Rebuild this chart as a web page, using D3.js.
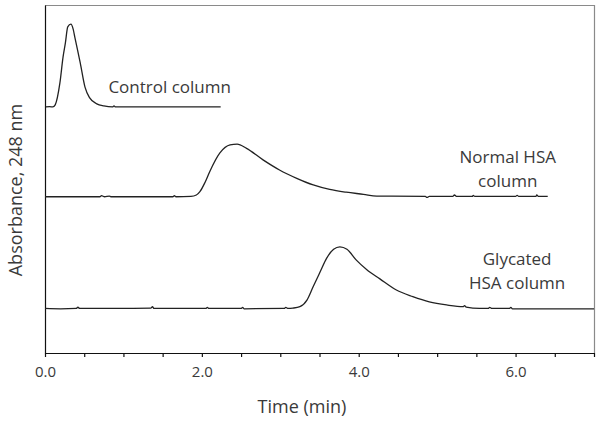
<!DOCTYPE html>
<html>
<head>
<meta charset="utf-8">
<script src="https://cdnjs.cloudflare.com/ajax/libs/d3/7.8.5/d3.min.js"></script>
<style>
  body { margin: 0; background: #fff; }
  svg text { font-family: "Open Sans", "Noto Sans", sans-serif; fill: #3a3a3a; }
</style>
</head>
<body>
<div id="chart"></div>
<script>
// Chromatogram traces: [time (min), absorbance (a.u.)]
var controlTrace = [
  [0.01, 0.707], [0.06, 0.708], [0.10, 0.707], [0.13, 0.713], [0.19, 0.776],
  [0.23, 0.850], [0.26, 0.891], [0.29, 0.937], [0.33, 0.945], [0.36, 0.930],
  [0.38, 0.908], [0.45, 0.833], [0.51, 0.764], [0.57, 0.733], [0.66, 0.716],
  [0.75, 0.710], [0.86, 0.707], [0.88, 0.710], [0.90, 0.707], [2.24, 0.707]
];
var normalTrace = [
  [0.00, 0.449], [0.70, 0.449], [0.72, 0.452], [0.76, 0.449], [0.82, 0.451],
  [0.84, 0.449], [1.63, 0.449], [1.65, 0.452], [1.67, 0.449], [1.86, 0.450],
  [1.93, 0.454], [1.975, 0.4635], [2.04, 0.490], [2.10, 0.521], [2.23, 0.575],
  [2.36, 0.598], [2.45, 0.600], [2.57, 0.588], [2.78, 0.555], [2.99, 0.526],
  [3.21, 0.502], [3.42, 0.483], [3.63, 0.470], [3.84, 0.462], [4.06, 0.456],
  [4.23, 0.451], [4.85, 0.450], [4.87, 0.447], [4.90, 0.450], [5.20, 0.450],
  [5.22, 0.454], [5.25, 0.450], [5.45, 0.450], [5.46, 0.453], [5.48, 0.450],
  [6.00, 0.450], [6.02, 0.453], [6.04, 0.450], [6.26, 0.450], [6.27, 0.454],
  [6.29, 0.450], [6.41, 0.450]
];
var glycatedTrace = [
  [0.00, 0.128], [0.20, 0.127], [0.40, 0.128], [0.42, 0.132], [0.44, 0.128],
  [0.90, 0.128], [1.35, 0.129], [1.37, 0.133], [1.39, 0.128], [2.05, 0.128],
  [2.07, 0.131], [2.09, 0.128], [2.50, 0.128], [2.52, 0.131], [2.54, 0.127],
  [3.05, 0.128], [3.07, 0.131], [3.10, 0.128], [3.16, 0.129], [3.25, 0.133],
  [3.34, 0.152], [3.42, 0.191], [3.51, 0.234], [3.59, 0.272], [3.68, 0.298],
  [3.76, 0.305], [3.85, 0.298], [3.97, 0.267], [4.10, 0.240], [4.27, 0.213],
  [4.48, 0.181], [4.69, 0.162], [4.90, 0.147], [5.12, 0.138], [5.33, 0.133],
  [5.35, 0.136], [5.37, 0.132], [5.54, 0.128], [5.65, 0.128], [5.67, 0.131],
  [5.70, 0.128], [5.92, 0.128], [5.94, 0.131], [5.96, 0.127], [7.00, 0.127]
];

var xTicks = [0, 0.5, 1, 1.5, 2, 2.5, 3, 3.5, 4, 4.5, 5, 5.5, 6, 6.5, 7],
  xLabelled = [0, 2, 4, 6];

// trace labels, anchored in data units (centre of text, first baseline)
var labelText = [["Control column"], ["Normal HSA", "column"], ["Glycated", "HSA column"]],
  labelT = [1.59, 5.90, 6.02],
  labelA = [0.747, 0.546, 0.253];

// Placement
var W = 602, H = 424,
  mLeft = 45, mRight = 594, mTop = 5, mBottom = 353;

var x = d3.scaleLinear().domain([0, 7]).range([mLeft, mRight]);
var y = d3.scaleLinear().domain([0, 1]).range([mBottom, mTop]);

var svg = d3.select("#chart").append("svg")
  .attr("width", W)
  .attr("height", H);

// frame (top and right, gray)
svg.append("path")
  .attr("d", "M" + mLeft + "," + (mTop + 0.5) + "H" + (mRight + 0.5) + "V" + mBottom)
  .attr("fill", "none")
  .attr("stroke", "#8a8a8a")
  .attr("stroke-width", 1.2);

// x axis
var xAxis = d3.axisBottom(x)
  .tickValues(xTicks)
  .tickSize(4)
  .tickSizeOuter(0)
  .tickPadding(9)
  .tickFormat(function(d) { return xLabelled.indexOf(d) >= 0 ? d3.format(".1f")(d) : ""; });

var gx = svg.append("g")
  .attr("transform", "translate(0," + mBottom + ")")
  .call(xAxis);
gx.selectAll("path, line").attr("stroke", "#111").attr("stroke-width", 1.2);
gx.selectAll("text")
  .style("font-size", "15px")
  .style("font-family", "'Open Sans', sans-serif")
  .attr("fill", "#444");

// y axis (line only)
var yAxis = d3.axisLeft(y).tickValues([]).tickSizeOuter(0);
var gy = svg.append("g")
  .attr("transform", "translate(" + mLeft + ",0)")
  .call(yAxis);
gy.select(".domain").attr("stroke", "#111").attr("stroke-width", 1.2);

// traces
var line = d3.line()
  .x(function(d) { return x(d[0]); })
  .y(function(d) { return y(d[1]); })
  .curve(d3.curveMonotoneX);

[controlTrace, normalTrace, glycatedTrace].forEach(function(tr) {
  svg.append("path")
    .datum(tr)
    .attr("d", line)
    .attr("fill", "none")
    .attr("stroke", "#222")
    .attr("stroke-width", 1.3);
});

// trace labels
labelText.forEach(function(lines, k) {
  var t = svg.append("text")
    .attr("x", x(labelT[k]))
    .attr("y", y(labelA[k]))
    .attr("text-anchor", "middle")
    .style("font-size", "17px");
  lines.forEach(function(s, i) {
    t.append("tspan")
      .attr("x", x(labelT[k]))
      .attr("dy", i == 0 ? 0 : 24)
      .text(s);
  });
});

// axis titles
svg.append("text")
  .attr("x", 302)
  .attr("y", 413)
  .attr("text-anchor", "middle")
  .style("font-size", "18px")
  .text("Time (min)");

svg.append("text")
  .attr("transform", "translate(22,190) rotate(-90)")
  .attr("text-anchor", "middle")
  .style("font-size", "18px")
  .text("Absorbance, 248 nm");
</script>
</body>
</html>
